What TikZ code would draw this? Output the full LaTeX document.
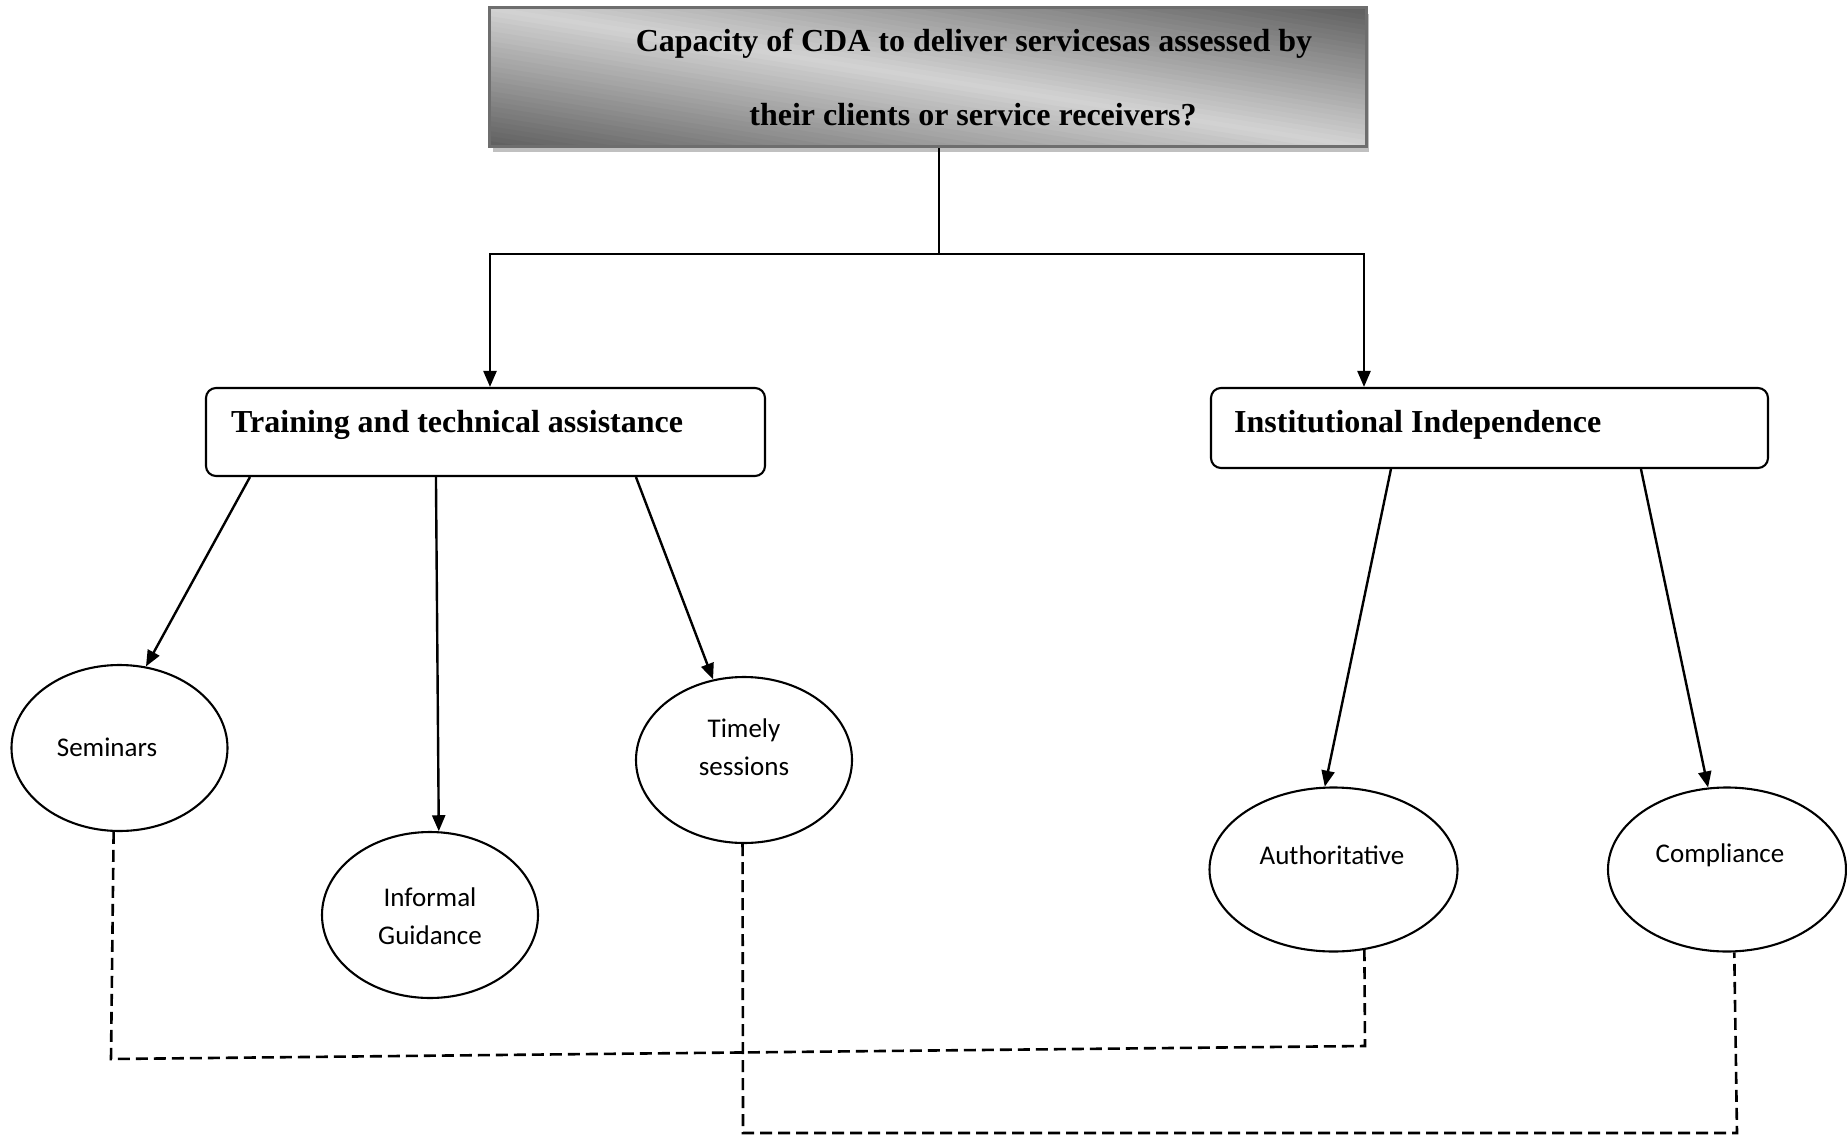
\documentclass[tikz,border=0pt]{standalone}
\usepackage{fontspec}
\setmainfont{Liberation Serif}
\newfontfamily\ellfont{Carlito}
\usetikzlibrary{shapes.geometric,arrows.meta}
\definecolor{tdark}{HTML}{5E5E5E}
\definecolor{tlight}{HTML}{D2D2D2}
\definecolor{tborder}{HTML}{6E6E6E}
\definecolor{tshadow}{HTML}{C0C0C0}
\begin{document}
\begin{tikzpicture}[x=1pt,y=-1pt,
  conn/.style={line width=2.4pt},
  arr/.style={line width=2.4pt,-{Triangle[length=16pt,width=13pt]}},
  dsh/.style={line width=2.6pt,dash pattern=on 12pt off 6pt},
  ell/.style={draw,ellipse,line width=2.1pt,inner sep=0pt},
  boxx/.style={draw,rounded corners=10pt,line width=2.1pt,inner sep=0pt},
  btext/.style={font=\fontsize{32}{38}\selectfont\bfseries,inner sep=0pt,anchor=base west},
  etext/.style={font=\ellfont\fontsize{27}{38}\selectfont,inner sep=0pt,align=center},
  ttext/.style={font=\fontsize{32}{38}\selectfont\bfseries,inner sep=0pt,anchor=base},
  titlebox/.style={draw=tborder,line width=3pt,inner sep=0pt},
]
\useasboundingbox (0,0) rectangle (1847,1137);
% title
\fill[tshadow] (493,14) rectangle (1369,152);
\begin{scope}
  \clip (489,8) rectangle (1366,147);
  \foreach \i in {0,...,56} {
    \pgfmathsetmacro\sa{-142+5*\i}
    \pgfmathsetmacro\sb{\sa+5.6}
    \pgfmathtruncatemacro\p{min(100,abs(\sa+2.5)/139*100)}
    \fill[tdark!\p!tlight] (489,8+\sa) -- (1366,147+\sa) -- (1366,147+\sb) -- (489,8+\sb) -- cycle;
  }
\end{scope}
\node[titlebox,minimum width=877pt,minimum height=139pt] (title) at (927.5,77.5) {};
\node[ttext] (t1) at (974,51.5) {Capacity of CDA to deliver servicesas assessed by};
\node[ttext] (t2) at (973,125.5) {their clients or service receivers?};
% boxes
\node[boxx,minimum width=559pt,minimum height=88pt] (tta) at (485.5,432) {};
\node[boxx,minimum width=557pt,minimum height=80pt] (ins) at (1489.5,428) {};
\node[btext] (ttaT) at (231,432) {Training and technical assistance};
\node[btext] (insT) at (1234,432) {Institutional Independence};
% ellipses
\node[ell,minimum width=216pt,minimum height=166pt] (sem) at (119.5,748) {};
\node[ell,minimum width=216pt,minimum height=166pt] (inf) at (430,915) {};
\node[ell,minimum width=216pt,minimum height=166pt] (tim) at (744,760) {};
\node[ell,minimum width=248pt,minimum height=164pt] (auth) at (1333.5,869.5) {};
\node[ell,minimum width=238pt,minimum height=164pt] (comp) at (1727,869.5) {};
\node[etext] (semT) at (107,747) {Seminars};
\node[etext] (infT) at (430,916) {Informal\\Guidance};
\node[etext] (timT) at (744,747) {Timely\\sessions};
\node[etext] (authT) at (1332,855) {Authoritative};
\node[etext] (compT) at (1720,855) {Compliance};
% top connectors
\coordinate (jn) at (939,254);
\coordinate (jl) at (490,254);
\coordinate (jr) at (1364,254);
\draw[conn] (title.south -| jn) -- (jn);
\draw[arr] (jn) -- (jl) -- (jl |- tta.north);
\draw[arr] (jn) -- (jr) -- (jr |- ins.north);
% arrows to ellipses
\draw[arr] ([xshift=45pt]tta.south west) -- (sem.72);
\draw[arr] ([xshift=231pt]tta.south west) -- (inf.84);
\draw[arr] ([xshift=431pt]tta.south west) -- (tim.111);
\draw[arr] ([xshift=181pt]ins.south west) -- (auth.96);
\draw[arr] ([xshift=431pt]ins.south west) -- (comp.103);
% dashed links
\coordinate (d1) at (111,1059);
\coordinate (d2) at (1365,1046);
\draw[dsh] (sem.266) -- (d1) -- (d2) -- (auth.291);
\coordinate (d3) at (743,1133);
\coordinate (d4) at (1737,1133);
\draw[dsh] (tim.269) -- (d3) -- (d4) -- (comp.275);
\end{tikzpicture}
\end{document}
